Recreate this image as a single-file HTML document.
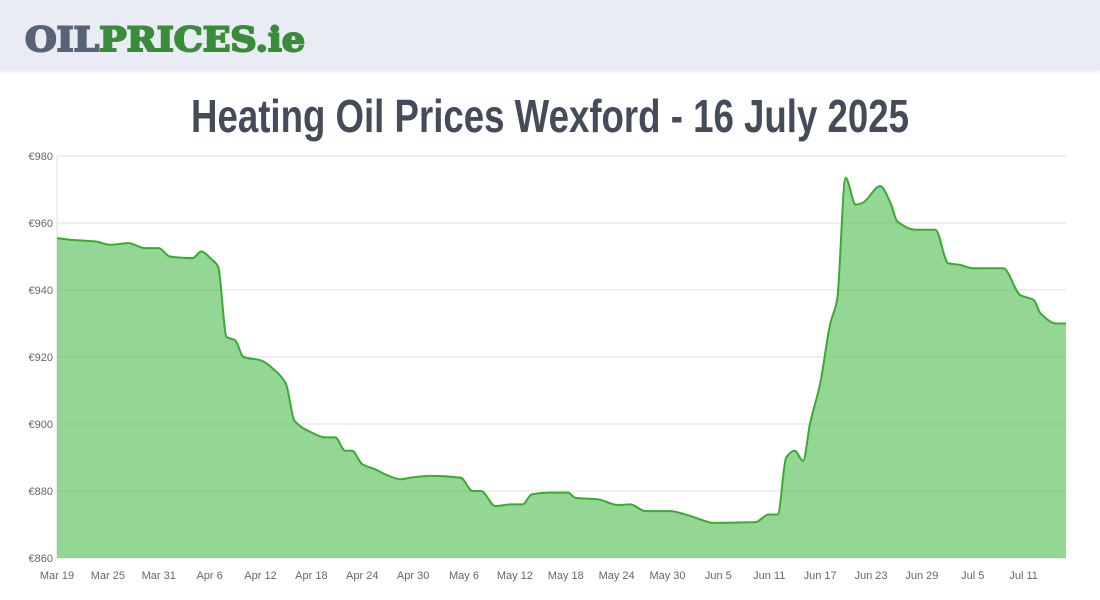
<!DOCTYPE html>
<html><head><meta charset="utf-8"><style>
body{margin:0;width:1100px;height:600px;background:#fff;overflow:hidden;font-family:"Liberation Sans",sans-serif}
#hdr{position:absolute;left:0;top:0;width:1100px;height:70px;background:#e9ecf4;box-shadow:0 2px 4px rgba(0,0,0,0.08)}
svg{position:absolute;left:0;top:0}
</style></head><body>
<div id="hdr"></div>
<svg id="chart" width="1100" height="600">
<g>
<text x="25" y="51" font-family="DejaVu Serif,Liberation Serif,serif" font-weight="bold" font-size="34" textLength="280" lengthAdjust="spacingAndGlyphs"><tspan fill="#586378" stroke="#586378" stroke-width="2">OIL</tspan><tspan fill="#3a8c3a" stroke="#3a8c3a" stroke-width="2">PRICES.ie</tspan></text>
</g>
<text x="191" y="132" font-family="Liberation Sans Narrow,Liberation Sans,sans-serif" font-weight="bold" font-size="46" fill="#444c5a" textLength="718" lengthAdjust="spacingAndGlyphs">Heating Oil Prices Wexford - 16 July 2025</text>
<g id="grid"></g><g id="area"></g><g id="xl"></g><g id="yl"></g>
</svg>
<script>
const days=[0,1.5,4.5,6.3,8.4,10.4,12,13.3,16,17,18.3,19,20,21,22,24,25.7,27,28,30,31.6,32.8,34,34.8,36,37.5,38.7,40.5,41.7,44,47.6,49,50,51.7,53.5,54.9,56,58.2,60.3,61.1,63.8,66.2,67.6,69.4,72.3,74.1,76.5,77.3,82.4,83.9,85,86,87,88,88.8,90,91.2,92,93,94.2,95,97.1,98.3,99.1,101.2,103.6,105.1,106.5,108,111.6,113.6,115.2,116,117.9,119];
const prices=[955.5,955,954.5,953.5,954,952.5,952.5,950,949.5,951.5,949,947,926,925,920,919,916,912,901,897.5,896,896,892,892,888,886.5,885,883.5,884,884.5,884,880,880,875.5,876,876,879,879.5,879.5,878,877.5,875.8,876,874,874,873,871,870.5,870.7,873,873,890,892,889,900,912,930,937,973.5,965.5,966,971,966,960.5,958,958,948,947.5,946.5,946.5,938.5,937,933,930,930];
const yTicks=[860,880,900,920,940,960,980];
const xTickLabels=["Mar 19","Mar 25","Mar 31","Apr 6","Apr 12","Apr 18","Apr 24","Apr 30","May 6","May 12","May 18","May 24","May 30","Jun 5","Jun 11","Jun 17","Jun 23","Jun 29","Jul 5","Jul 11"];
const X0=57,X1=1066,Y0=558,Y1=156,D=119;
const sx=d=>X0+(X1-X0)*d/D, sy=v=>Y0-(Y0-Y1)*(v-860)/120;
const NS="http://www.w3.org/2000/svg";
function mk(t,a,p){const e=document.createElementNS(NS,t);for(const k in a)e.setAttribute(k,a[k]);p.appendChild(e);return e;}
const g=document.getElementById('grid'),yl=document.getElementById('yl'),xl=document.getElementById('xl');
yTicks.forEach(v=>{const l=mk('line',{x1:X0,x2:X1,y1:sy(v),y2:sy(v),stroke:'#e2e2e2','stroke-width':1},g);


const t=mk('text',{x:X0-4,y:sy(v)+4,'text-anchor':'end','font-size':11,fill:'#666'},yl);t.textContent='€'+v;

});
mk('line',{x1:X0,x2:X0,y1:Y1,y2:Y0,stroke:'#e2e2e2'},g);
xTickLabels.forEach((s,i)=>{const t=mk('text',{x:sx(i*6),y:579,'text-anchor':'middle','font-size':11,fill:'#666'},xl);t.textContent=s;

});
const P=days.map((d,i)=>[sx(d),sy(prices[i])]);const n=P.length;
const dl=[],m=[];for(let i=0;i<n-1;i++)dl.push((P[i+1][1]-P[i][1])/(P[i+1][0]-P[i][0]));
m[0]=dl[0];m[n-1]=dl[n-2];for(let i=1;i<n-1;i++)m[i]=dl[i-1]*dl[i]<=0?0:(dl[i-1]*dl[i]*2)/(dl[i-1]+dl[i]);
let d='M'+P[0][0]+','+P[0][1];
for(let i=0;i<n-1;i++){const h=(P[i+1][0]-P[i][0])/3;d+=`C${P[i][0]+h},${P[i][1]+m[i]*h} ${P[i+1][0]-h},${P[i+1][1]-m[i+1]*h} ${P[i+1][0]},${P[i+1][1]}`;}
const a=document.getElementById('area');
const f=mk('path',{d:d+`L${P[n-1][0]},${Y0}L${P[0][0]},${Y0}Z`,fill:'rgba(60,180,60,0.55)'},a);


const ln=mk('path',{d:d,fill:'none',stroke:'#3aaa35','stroke-width':2},a);


</script>
</body></html>
